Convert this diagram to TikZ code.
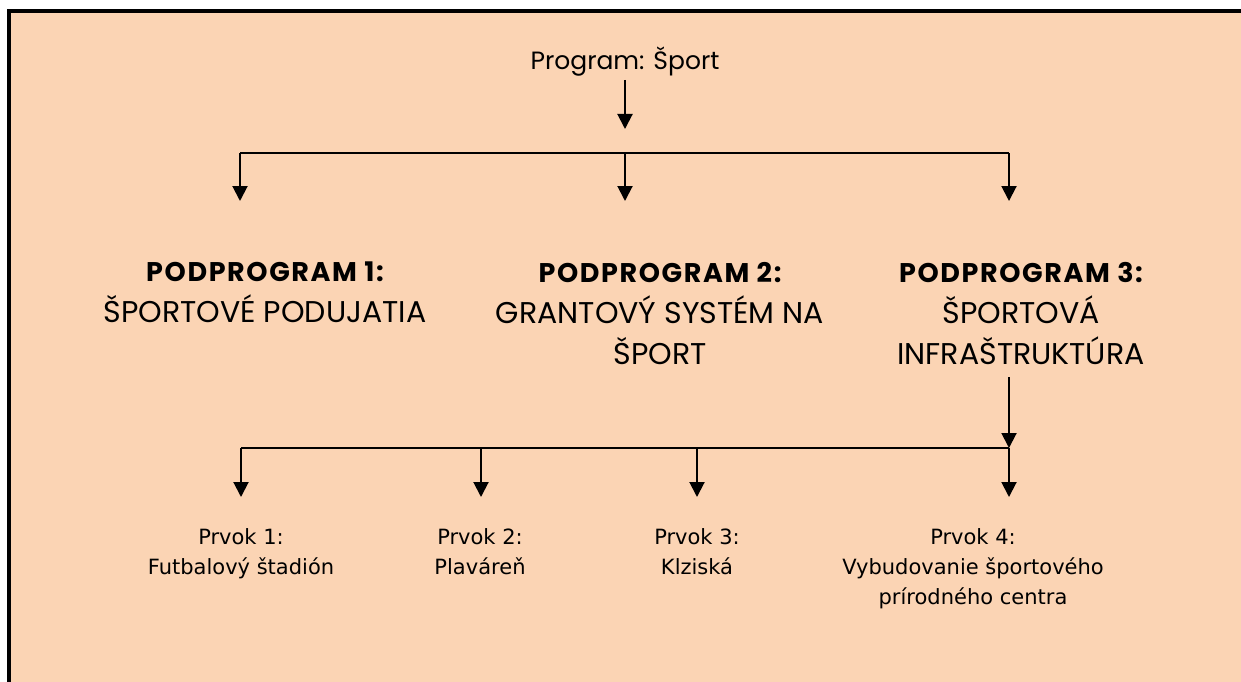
\documentclass[tikz,border=0pt]{standalone}
\usepackage{fontspec}
\setmainfont{DejaVu Sans}
\newfontfamily\headfont{Poppins}
\newfontfamily\headbold{Poppins}[LetterSpace=6]
\usetikzlibrary{arrows.meta}
\definecolor{panel}{HTML}{FBD4B4}
\tikzset{
  wire/.style={line width=2pt, draw=black},
  arr/.style={wire, -{Triangle[length=15pt,width=15pt]}},
  toptext/.style={inner sep=0pt, anchor=base, font=\headfont\fontsize{25}{41}\selectfont},
  subtext/.style={inner sep=0pt, anchor=north, align=center, font=\headfont\fontsize{30}{41}\selectfont},
  leaftext/.style={inner sep=0pt, anchor=north, align=center, font=\fontsize{21}{30}\selectfont},
}
\newcommand{\subhead}[1]{{\headbold\fontsize{27}{41}\selectfont\bfseries #1}}
\begin{document}
\begin{tikzpicture}[x=1pt,y=-1pt]
  \useasboundingbox (0,0) rectangle (1241,682);
  % panel: filled past the right and bottom edges, framed on top and left
  \fill[white] (0,0) rectangle (1241,682);
  \fill[panel] (9,11) rectangle (1262,700);
  \draw[line width=4pt] (1262,11) -- (9,11) -- (9,700);

  % top level
  \node[toptext] (prog) at (625,70) {Program: Šport};
  \coordinate (progtop) at (625,80);
  \coordinate (progtip) at (625,129);
  \draw[arr] (progtop) -- (progtip);

  % first distribution bar
  \coordinate (b1) at (240,153);
  \coordinate (b2) at (625,153);
  \coordinate (b3) at (1009,153);
  \coordinate (t1) at (240,201);
  \coordinate (t2) at (625,201);
  \coordinate (t3) at (1009,201);
  \draw[wire] (b1) -- (b3);
  \draw[arr] (b1) -- (t1);
  \draw[arr] (b2) -- (t2);
  \draw[arr] (b3) -- (t3);

  % subprograms
  \node[subtext] (sp1) at (265,262) {\subhead{PODPROGRAM 1:}\\ŠPORTOVÉ PODUJATIA};
  \node[subtext] (sp2) at (660,262) {\subhead{PODPROGRAM 2:}\\GRANTOVÝ SYSTÉM NA\\ŠPORT};
  \node[subtext] (sp3) at (1021,262) {\subhead{PODPROGRAM 3:}\\ŠPORTOVÁ\\INFRAŠTRUKTÚRA};

  % second distribution bar
  \coordinate (c1) at (241,448);
  \coordinate (c2) at (481,448);
  \coordinate (c3) at (697,448);
  \coordinate (c4) at (1009,448);
  \coordinate (s3start) at (1009,377);
  \draw[arr] (s3start) -- (c4);
  \draw[wire] (c1) -- (c4);
  \coordinate (u1) at (241,497);
  \coordinate (u2) at (481,497);
  \coordinate (u3) at (697,497);
  \coordinate (u4) at (1009,497);
  \draw[arr] (c1) -- (u1);
  \draw[arr] (c2) -- (u2);
  \draw[arr] (c3) -- (u3);
  \draw[arr] (c4) -- (u4);

  % elements
  \node[leaftext] (p1) at (241,528) {Prvok 1:\\Futbalový štadión};
  \node[leaftext] (p2) at (480,528) {Prvok 2:\\Plaváreň};
  \node[leaftext] (p3) at (697,528) {Prvok 3:\\Klziská};
  \node[leaftext] (p4) at (973,528) {Prvok 4:\\Vybudovanie športového\\prírodného centra};
\end{tikzpicture}
\end{document}
